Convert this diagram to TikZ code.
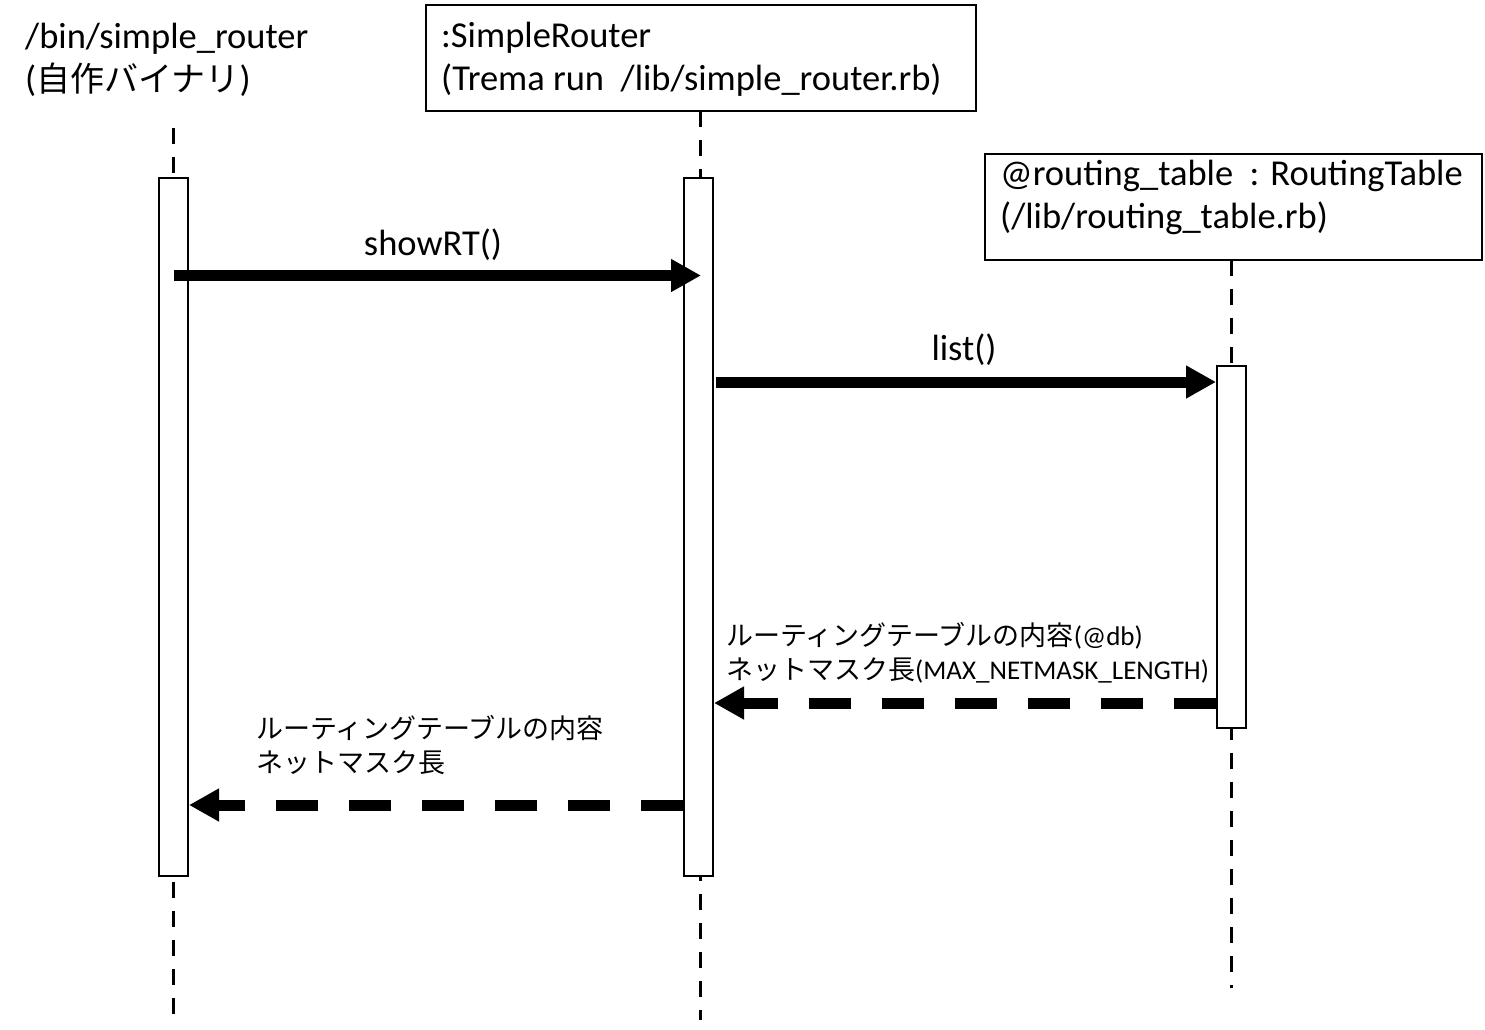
\documentclass[tikz,border=0pt]{standalone}
\usepackage{fontspec}
\setmainfont{Carlito}
\newfontfamily\jp{Noto Sans CJK JP}
\usetikzlibrary{arrows.meta}
\newcommand\bigjp[1]{{\jp\fontsize{34}{43}\selectfont #1}}
\begin{document}
\begin{tikzpicture}[x=1pt,y=-1pt,
  big/.style={font=\fontsize{36.5}{43}\selectfont, align=left, inner sep=0pt, anchor=base west},
  small/.style={font=\fontsize{27}{34}\selectfont, align=left, inner sep=0pt, anchor=base west},
  msglabel/.style={font=\fontsize{36.5}{43}\selectfont, inner sep=0pt, anchor=base},
  headbox/.style={draw, line width=2pt, inner sep=0pt},
  lifeline/.style={line width=3pt, dash pattern=on 16pt off 13pt},
  act/.style={draw, line width=2pt, fill=white, minimum width=29pt, inner sep=0pt},
  msg/.style={line width=11pt, -{Triangle[length=30pt,width=31pt]}},
  ret/.style={msg, dash pattern=on 42pt off 31pt}]
\useasboundingbox (0,0) rectangle (1485,1029);

% heads
\node[big] (L1) at (25,91) {/bin/simple\_router\\(\bigjp{自作バイナリ})};
\node[headbox, minimum width=550pt, minimum height=106pt] (B2) at (701,58) {};
\node[big] (T2) at (441,90) {:SimpleRouter\\(Trema run\ \ /lib/simple\_router.rb)};
\node[headbox, minimum width=497pt, minimum height=106pt] (B3) at (1233.5,206.5) {};
\node[big] (T3) at (1000,228) {@routing\_table\ \ : RoutingTable\\(/lib/routing\_table.rb)};

% lifelines
\coordinate (t1) at (173.5,128);
\coordinate (e1) at (173.5,1020);
\coordinate (t2) at (700,111);
\coordinate (e2) at (700,1020);
\coordinate (t3) at (1231.5,260);
\coordinate (e3) at (1231.5,988);
\draw[lifeline] (t1) -- (e1);
\draw[lifeline] (t2) -- (e2);
\draw[lifeline] (t3) -- (e3);

% activations
\node[act, minimum height=698pt] (A1) at (173.5,527) {};
\node[act, minimum height=698pt] (A2) at (698.5,527) {};
\node[act, minimum height=362pt] (A3) at (1231.5,547) {};

% messages
\coordinate (m1s) at (174,275.5);
\coordinate (m1e) at (701,275.5);
\draw[msg] (m1s) -- (m1e);
\node[msglabel] (l1) at (433,255) {showRT()};

\coordinate (m2s) at (716,382);
\coordinate (m2y) at (0,382);
\draw[msg] (m2s) -- (A3.west |- m2y);
\node[msglabel] (l2) at (964,360) {list()};

\coordinate (r1y) at (0,703);
\draw[ret] (A3.west |- r1y) -- (A2.east |- r1y);
\node[small] (l3) at (726,679) {{\jp ルーティングテーブルの内容}(@db)\\{\jp ネットマスク長}(MAX\_NETMASK\_LENGTH)};

\coordinate (r2y) at (0,805);
\draw[ret] (A2.west |- r2y) -- (A1.east |- r2y);
\node[small] (l4) at (256,772) {{\jp ルーティングテーブルの内容}\\{\jp ネットマスク長}};
\end{tikzpicture}
\end{document}
